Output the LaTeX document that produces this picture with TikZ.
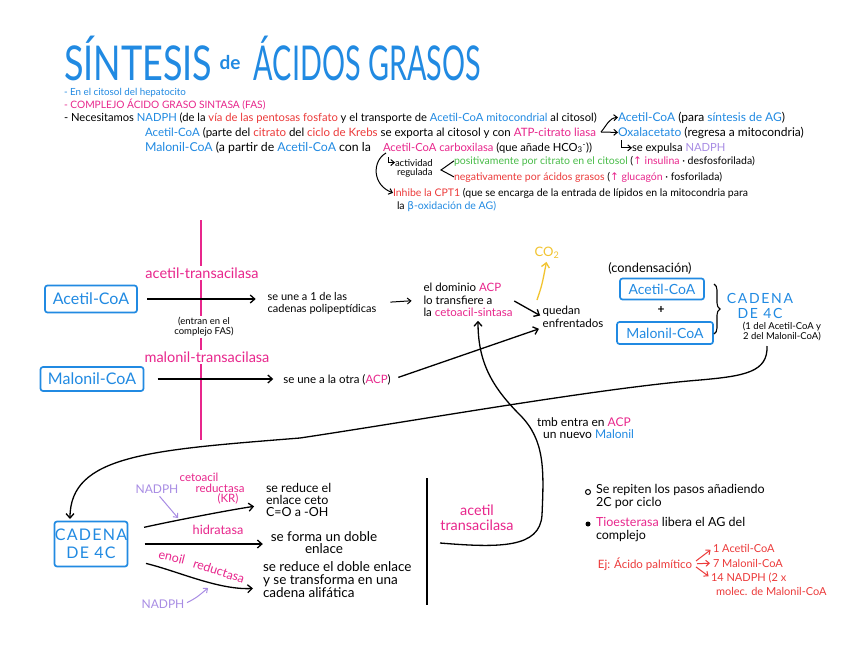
\documentclass[tikz,border=0pt]{standalone}
\usepackage{fontspec}
\usepackage{graphicx}
\setmainfont{Lato}
\newfontfamily\symf{DejaVu Sans}
\usetikzlibrary{arrows.meta,decorations.pathreplacing}
\definecolor{cblue}{RGB}{33,138,226}
\definecolor{cpink}{RGB}{232,38,140}
\definecolor{cred}{RGB}{236,58,58}
\definecolor{cgreen}{RGB}{72,188,72}
\definecolor{cviol}{RGB}{168,140,228}
\definecolor{cyell}{RGB}{242,196,48}
\newcommand\cB[1]{\textcolor{cblue}{#1}}
\newcommand\cP[1]{\textcolor{cpink}{#1}}
\newcommand\cR[1]{\textcolor{cred}{#1}}
\newcommand\cG[1]{\textcolor{cgreen}{#1}}
\newcommand\cV[1]{\textcolor{cviol}{#1}}
\newcommand\fs[2]{\fontsize{#1}{#2}\selectfont}
\begin{document}
\begin{tikzpicture}[x=1pt,y=-1pt,
 every node/.style={inner sep=0pt,outer sep=0pt},
 hd/.style={font=\fs{11.2}{12}, anchor=base west},
 hs/.style={font=\fs{10.5}{12}, anchor=base west},
 mid/.style={font=\fs{11.5}{12.5}, align=left},
 big/.style={font=\fs{12.5}{13}, align=left},
 enz/.style={font=\fs{14.5}{15}, text=cpink},
 rtx/.style={font=\fs{11}{12}, text=cred, anchor=west},
 bbox/.style={draw=cblue, line width=1.7pt, rounded corners=2.5pt, text=cblue},
 conn/.style={line width=1.3pt, -{Straight Barb[length=4.5pt,width=8pt]}},
 thin/.style={line width=1pt, -{Straight Barb[length=3.5pt,width=6pt]}},
]
\fill[white] (0,0) rectangle (848,656);
\useasboundingbox (0,0) rectangle (848,656);

% ---------- title
\node[anchor=base west, text=cblue, font=\fs{48}{48}, text depth=0pt] (tit1) at (64,80) {\scalebox{0.75}[1]{SÍNTESIS}};
\node[anchor=base, text=cblue, font=\bfseries\fs{19}{19}, text depth=0pt] (tit2) at (230,69) {de};
\node[anchor=base east, text=cblue, font=\fs{48}{48}, text depth=0pt] (tit3) at (481,80) {\scalebox{0.6}[1]{ÁCIDOS GRASOS}};

% ---------- header
\node[hd, font=\fs{9.8}{12}, text=cblue] (h1) at (64,95) {- En el citosol del hepatocito};
\node[hd, font=\fs{10.2}{12}, text=cpink] (h2) at (64,108) {- COMPLEJO ÁCIDO GRASO SINTASA (FAS)};
\node[hd] (h3) at (64,121) {- Necesitamos \cB{NADPH} (de la \cR{vía de las pentosas fosfato} y el transporte de \cB{Acetil-CoA mitocondrial} al citosol)};
\node[hd, font=\fs{11.5}{12}] (h4) at (145,136) {\cB{Acetil-CoA} (parte del \cR{citrato} del \cR{ciclo de Krebs} se exporta al citosol y con \cP{ATP-citrato liasa}};
\node[hd, font=\fs{12.3}{12}] (h5a) at (145,151) {\cB{Malonil-CoA} (a partir de \cB{Acetil-CoA} con la};
\node[hd] (h5b) at (383,151) {\cP{Acetil-CoA carboxilasa} (que añade HCO\textsubscript{3}\textsuperscript{-}))};

\node[hd, font=\fs{12}{12}] (r1) at (618,121) {\cB{Acetil-CoA} (para \cB{síntesis de AG})};
\node[hd, font=\fs{12}{12}] (r2) at (618,136) {\cB{Oxalacetato} (regresa a mitocondria)};
\node[hd] (r3) at (632,151) {se expulsa \cV{NADPH}};
\coordinate (fk) at (601,132);
\draw[thin] (fk) .. controls (607,125) and (609,118) .. (r1.west);
\draw[thin] (fk) -- (r2.west);
\coordinate (hk) at (621,140);
\draw[thin] (hk) |- (r3.west);

\node[font=\fs{9.5}{9.5}, anchor=base west] (act1) at (395,166) {actividad};
\node[font=\fs{9.5}{9.5}, anchor=base west] (act2) at (397,175) {regulada};
\node[hs] (pos) at (454,164) {\cG{positivamente por citrato en el citosol} (\cP{{\symf ↑} insulina} · desfosforilada)};
\node[hs] (neg) at (454,180) {\cR{negativamente por ácidos grasos} (\cP{{\symf ↑} glucagón} · fosforilada)};
\node[hs] (inh) at (393,196) {\cR{Inhibe la CPT1} (que se encarga de la entrada de lípidos en la mitocondria para};
\node[hs] (inh2) at (397,209) {la \cB{{\symf β}-oxidación de AG)}};
\coordinate (lt) at (441,170);
\draw[line width=1pt] (pos.west) -- (lt) -- (neg.west);
\coordinate (brk) at (386,153);
\draw[thin] (brk) .. controls (372,161) and (372,185) .. (inh.west);
\coordinate (hk2) at (388,157);
\draw[thin] (hk2) |- (act1.west);

% ---------- middle
\coordinate (pl1) at (201,220);
\coordinate (pl2) at (201,440);
\draw[cpink, line width=1.8pt] (pl1) -- (pl2);
\node[enz, fill=white, inner sep=1.5pt] (e1) at (202,273) {acetil-transacilasa};
\node[font=\fs{9.5}{10}, align=center, fill=white, inner sep=1pt] (entr) at (204,327) {(entran en el\\complejo FAS)};
\node[enz, fill=white, inner sep=1.5pt] (e2) at (207,357) {malonil-transacilasa};

\node[bbox, font=\fs{16}{16}, minimum width=92pt, minimum height=27pt] (acL) at (91,299) {Acetil-CoA};
\node[bbox, font=\fs{16}{16}, minimum width=103pt, minimum height=24pt] (maL) at (92,379) {Malonil-CoA};

\node[mid, font=\fs{11}{12}] (une1) at (322,303) {se une a 1 de las\\cadenas polipeptídicas};
\node[mid] (une2) at (337,380) {se une a la otra (\cP{ACP})};
\node[mid] (dom) at (468,300) {el dominio \cP{ACP}\\lo transfiere a\\la \cP{cetoacil-sintasa}};
\node[mid] (qued) at (573,317) {quedan\\enfrentados};

\draw[conn, shorten <=10pt, shorten >=12pt] (acL.east) -- (acL.east -| une1.west);
\draw[conn, shorten <=14pt, shorten >=10pt] (maL.east) -- (maL.east -| une2.west);
\draw[thin, shorten <=14pt, shorten >=12pt] (une1.east) -- (dom.west);
\draw[conn, shorten <=2pt, shorten >=3pt] (dom.east) -- (qued.west);
\draw[conn, shorten <=8pt, shorten >=4pt] (une2.east) -- (qued.south west);

\node[text=cyell, font=\fs{13}{13}] (co2) at (547,253) {CO\textsubscript{2}};
\coordinate (co2s) at (537,300);
\draw[conn, cyell, shorten >=3pt] (co2s) .. controls (542,285) .. (co2.south);

\node[mid, font=\fs{12.8}{13}] (cond) at (650,268) {(condensación)};
\node[bbox, font=\fs{14}{14}, minimum width=84pt, minimum height=21pt] (acR) at (662,289) {Acetil-CoA};
\node[font=\bfseries\fs{12}{12}] (plus) at (661,310) {+};
\node[bbox, font=\fs{14}{14}, minimum width=96pt, minimum height=22pt] (maR) at (665,333) {Malonil-CoA};
\coordinate (br1) at (714,284);
\coordinate (br2) at (714,334);
\draw[line width=1.1pt, decorate, decoration={brace, amplitude=6pt}] (br1) -- (br2);
\node[text=cblue, font=\fs{14}{15}\addfontfeature{LetterSpace=12}, align=center] (c4) at (760,306) {CADENA\\DE 4C};
\node[font=\fs{9.5}{10}, align=center] (c4n) at (782,332) {(1 del Acetil-CoA y\\2 del Malonil-CoA)};

% ---------- long curve to bottom chain
\coordinate (lcs) at (767,346);
\coordinate (lc1) at (700,380);
\coordinate (lc2) at (300,438);
\coordinate (cadin) at (70,519);
\draw[conn] (lcs) .. controls (768,372) and (745,376) .. (lc1) .. controls (600,388) and (420,420) .. (lc2) .. controls (150,450) and (70,455) .. (cadin);

% ---------- bottom
\node[bbox, font=\fs{16}{18}\addfontfeature{LetterSpace=8}, align=center, minimum width=73pt, minimum height=45pt] (cad) at (91,544) {CADENA\\DE 4C};

\node[font=\fs{12.5}{12}, align=left, anchor=north west] (s1) at (266,483) {se reduce el\\enlace ceto\\C=O a -OH};
\node[big, font=\fs{13.5}{12}, align=center] (s2) at (324,543) {se forma un doble\\enlace};
\node[big, anchor=north west, font=\fs{13.5}{13}] (s3) at (263,562) {se reduce el doble enlace\\y se transforma en una\\cadena alifática};

\draw[conn, shorten <=17pt, shorten >=12pt] ([yshift=13pt]cad.east) .. controls +(45,-10) and +(-35,5) .. ([yshift=-5pt]s1.west);
\draw[conn, shorten <=17pt, shorten >=8pt] (cad.east) -- (cad.east -| s2.west);
\draw[conn, shorten <=19pt, shorten >=10pt] ([yshift=-15pt]cad.east) .. controls +(50,12) and +(-45,2) .. ([yshift=-8pt]s3.west);

\node[enz, font=\fs{11.5}{11}] (kr1) at (199,477) {cetoacil};
\node[enz, font=\fs{11.5}{11}] (kr2) at (220,488) {reductasa};
\node[enz, font=\fs{11.5}{11}] (kr3) at (228,499) {(KR)};
\node[enz, font=\fs{12.7}{11}] (hid) at (218,530) {hidratasa};
\node[enz, font=\fs{12.5}{11}, rotate=-14] (eno1) at (172,557) {enoil};
\node[enz, font=\fs{12.5}{11}, rotate=-18] (eno2) at (219,571) {reductasa};

\node[text=cviol, font=\fs{12}{12}] (np1) at (157,489) {NADPH};
\coordinate (na1) at (178,518);
\draw[thin, cviol, shorten <=4pt] (np1.south) -- (na1);
\node[text=cviol, font=\fs{12}{12}] (np2) at (163,604) {NADPH};
\coordinate (na2) at (208,588);
\draw[thin, cviol, shorten <=3pt] (np2.east) .. controls (196,598) .. (na2);

\coordinate (bv1) at (427,478);
\coordinate (bv2) at (427,605);
\draw[line width=1.4pt] (bv1) -- (bv2);

\node[enz, align=center, font=\fs{14.4}{15}] (e3) at (477,518) {acetil\\transacilasa};
\coordinate (lp0) at (440,543);
\coordinate (lpa) at (542,515);
\coordinate (lpb) at (520,415);
\draw[conn, shorten >=4pt] (lp0) .. controls (500,548) and (540,548) .. (lpa) .. controls (544,470) and (545,440) .. (lpb) .. controls (490,385) and (478,360) .. ([xshift=10pt]dom.south);

\node[font=\fs{12}{12}, align=left, anchor=north west] (tmb) at (537,418) {tmb entra en \cP{ACP}\\\ \ un nuevo \cB{Malonil}};

\node[circle, draw, line width=1pt, minimum size=5pt] (o1) at (588,492) {};
\node[circle, fill, minimum size=5pt] (o2) at (588,524) {};
\node[big, anchor=north west] (b1) at (596,484) {Se repiten los pasos añadiendo\\2C por ciclo};
\node[big, anchor=north west] (b2) at (596,517) {\cP{Tioesterasa} libera el AG del\\complejo};

\node[font=\fs{11.5}{12}, text=cred, anchor=east] (ej) at (692,564) {Ej: Ácido palmítico};
\node[rtx] (p1) at (713,548) {1 Acetil-CoA};
\node[rtx] (p2) at (713,563) {7 Malonil-CoA};
\node[rtx] (p3) at (711,578) {14 NADPH (2 x};
\node[rtx] (p4) at (716,591) {molec. de Malonil-CoA};
\draw[thin, cred, shorten <=5pt, shorten >=3pt] (ej.east) -- (p1.west);
\draw[thin, cred, shorten <=5pt, shorten >=3pt] (ej.east) -- (p2.west);
\draw[thin, cred, shorten <=5pt, shorten >=3pt] (ej.east) -- (p3.west);
\end{tikzpicture}
\end{document}
